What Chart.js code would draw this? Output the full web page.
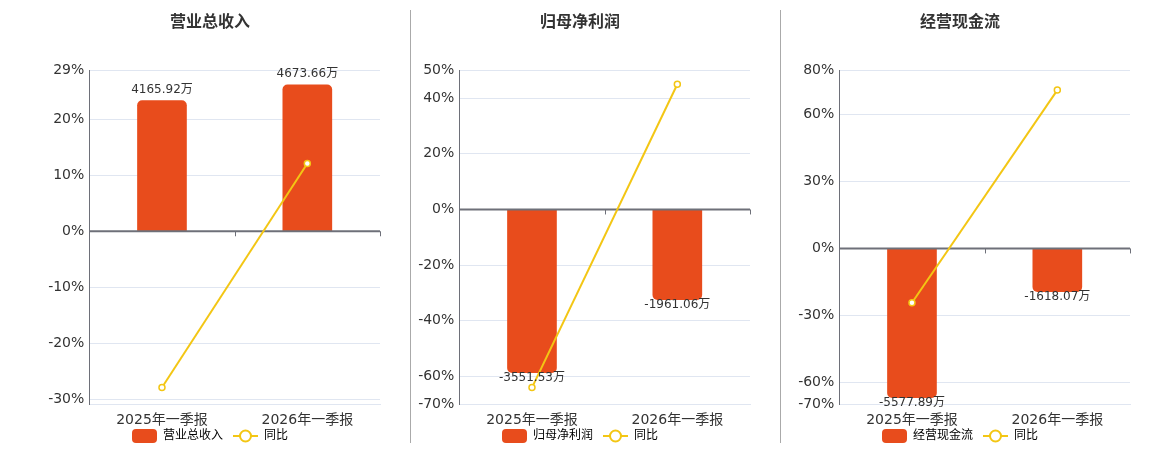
<!DOCTYPE html>
<html>
<head>
<meta charset="utf-8">
<script src="https://cdn.jsdelivr.net/npm/chart.js@4.4.1/dist/chart.umd.min.js"></script>
<style>
html, body { margin: 0; padding: 0; background: #fff; overflow: hidden; }
#wrap { position: relative; width: 1160px; height: 450px; }
.panel { position: absolute; top: 0; width: 380px; height: 452px; }
.sep { position: absolute; top: 10px; width: 1px; height: 433px; background: #aaa; }
</style>
</head>
<body>
<div id="wrap">
  <div class="panel" style="left:20px"><canvas id="c0" width="380" height="452"></canvas></div>
  <div class="panel" style="left:390px"><canvas id="c1" width="380" height="452"></canvas></div>
  <div class="panel" style="left:770px"><canvas id="c2" width="380" height="452"></canvas></div>
  <div class="sep" style="left:410px"></div>
  <div class="sep" style="left:780px"></div>
</div>
<script>
// categories and titles
const categories = ['2025年一季报', '2026年一季报'];
const titles = ['营业总收入', '归母净利润', '经营现金流'];

// bar values (万)
const revenue = [4165.92, 4673.66];
const netProfit = [-3551.53, -1961.06];
const cashFlow = [-5577.89, -1618.07];

// year-on-year (%)
const revenueYoY = [-27.9, 12.1];
const netProfitYoY = [-64.0, 45.0];
const cashFlowYoY = [-24.4, 71.1];

// percentage axis ticks and ranges
const revenueTicks = [28.75, 20, 10, 0, -10, -20, -30];
const netProfitTicks = [50, 40, 20, 0, -20, -40, -60, -70];
const cashFlowTicks = [80, 60, 30, 0, -30, -60, -70];
const revenueRange = [-30.9, 28.75];
const netProfitRange = [-70, 50];
const cashFlowRange = [-70, 80];

// hidden amount axis ranges (万), zero aligned with the % axis
const revenueBarRange = [-5519, 5135];
const netProfitBarRange = [-4240, 3028];
const cashFlowBarRange = [-5824, 6656];

const FONT = "'DejaVu Sans', 'Noto Sans CJK SC', sans-serif";
const BAR_COLOR = '#E84C1C';
const LINE_COLOR = '#F3C614';

// legend icons
function barIcon() {
    const c = document.createElement('canvas');
    c.width = 25; c.height = 14;
    const g = c.getContext('2d');
    g.fillStyle = BAR_COLOR;
    g.beginPath();
    g.roundRect(0, 0, 25, 14, 4);
    g.fill();
    return c;
}
function lineIcon() {
    const c = document.createElement('canvas');
    c.width = 25; c.height = 14;
    const g = c.getContext('2d');
    g.strokeStyle = LINE_COLOR;
    g.lineWidth = 2;
    g.beginPath();
    g.moveTo(0, 7); g.lineTo(25, 7);
    g.stroke();
    g.beginPath();
    g.arc(12.5, 7, 5.5, 0, Math.PI * 2);
    g.fillStyle = '#fff';
    g.fill();
    g.stroke();
    return c;
}
const icons = [barIcon(), lineIcon()];

// zero axis line with category boundary ticks, drawn over the bars
const zeroAxis = {
    id: 'zeroAxis',
    afterDatasetDraw(chart, args) {
        if (args.index !== 0) return;
        const ctx = chart.ctx;
        const area = chart.chartArea;
        const y = chart.scales.y.getPixelForValue(0);
        const x = chart.scales.x;
        ctx.save();
        ctx.strokeStyle = '#6E7079';
        ctx.lineWidth = 2;
        ctx.beginPath();
        ctx.moveTo(area.left, y);
        ctx.lineTo(area.right, y);
        ctx.stroke();
        ctx.lineWidth = 1;
        [0.5, 1.5].forEach(v => {
            const px = Math.round(x.getPixelForValue(v)) + 0.5;
            ctx.beginPath();
            ctx.moveTo(px, y);
            ctx.lineTo(px, y + 5);
            ctx.stroke();
        });
        ctx.restore();
    }
};

// value labels at the end of each bar, and category labels under the plot
// (the category labels overlap the legend box, so the scale can't clip them)
const barLabels = {
    id: 'barLabels',
    afterDatasetsDraw(chart) {
        const meta = chart.getDatasetMeta(0);
        const data = chart.data.datasets[0].data;
        const ctx = chart.ctx;
        ctx.save();
        ctx.font = '12px ' + FONT;
        ctx.fillStyle = '#333';
        ctx.textAlign = 'center';
        ctx.textBaseline = 'middle';
        meta.data.forEach((bar, i) => {
            const v = data[i];
            const y = v >= 0 ? bar.y - 11 : bar.y + 5;
            ctx.fillText(v.toFixed(2) + '万', bar.x, y);
        });
        const xs = chart.scales.x;
        ctx.font = '14px ' + FONT;
        chart.data.labels.forEach((lab, i) => {
            ctx.fillText(lab, xs.getPixelForTick(i), chart.chartArea.bottom + 16);
        });
        ctx.restore();
    }
};

function makeChart(id, title, amounts, yoy, ticks, range, barRange) {
    new Chart(document.getElementById(id), {
        data: {
            labels: categories,
            datasets: [
                {
                    type: 'bar',
                    label: title,
                    data: amounts,
                    yAxisID: 'y1',
                    order: 1,
                    backgroundColor: BAR_COLOR,
                    barThickness: 49,
                    borderRadius: 5,
                    borderSkipped: 'start'
                },
                {
                    type: 'line',
                    label: '同比',
                    data: yoy,
                    yAxisID: 'y',
                    order: 0,
                    borderColor: LINE_COLOR,
                    borderWidth: 2,
                    tension: 0,
                    pointRadius: 3,
                    pointBorderWidth: 1.5,
                    pointBackgroundColor: '#fff',
                    pointBorderColor: LINE_COLOR
                }
            ]
        },
        options: {
            responsive: false,
            animation: false,
            plugins: {
                title: {
                    display: true,
                    text: title,
                    color: '#333',
                    font: { size: 16, weight: 'bold', family: FONT },
                    padding: { top: 13.4, bottom: 37.7 }
                },
                legend: {
                    position: 'bottom',
                    labels: {
                        usePointStyle: true,
                        pointStyleWidth: 25,
                        padding: 10,
                        color: '#555',
                        font: { size: 12, family: FONT },
                        generateLabels: chart => chart.data.datasets.map((ds, i) => ({
                            text: ds.label,
                            pointStyle: icons[i],
                            fillStyle: 'transparent',
                            strokeStyle: 'transparent',
                            lineWidth: 0,
                            hidden: false,
                            datasetIndex: i
                        }))
                    }
                },
                tooltip: { enabled: false }
            },
            scales: {
                x: {
                    type: 'category',
                    offset: true,
                    grid: { display: false, drawTicks: false },
                    border: { display: true, color: '#E0E6F1', width: 1 },
                    ticks: { display: false },
                    afterFit: s => { s.height = 15.7; }
                },
                y: {
                    position: 'left',
                    min: range[0],
                    max: range[1],
                    afterBuildTicks: s => { s.ticks = ticks.map(v => ({ value: v })); },
                    afterFit: s => { s.width = 69.3; },
                    grid: { color: '#E0E6F1', drawTicks: false },
                    border: { color: '#6E7079', width: 1 },
                    ticks: {
                        autoSkip: false,
                        padding: 5,
                        color: '#333',
                        font: { size: 14, family: FONT },
                        callback: v => Math.round(v) + '%'
                    }
                },
                y1: {
                    position: 'right',
                    min: barRange[0],
                    max: barRange[1],
                    grid: { display: false, drawTicks: false },
                    border: { display: false },
                    ticks: { display: false },
                    afterFit: s => { s.width = 20; }
                }
            }
        },
        plugins: [zeroAxis, barLabels]
    });
}

makeChart('c0', titles[0], revenue, revenueYoY, revenueTicks, revenueRange, revenueBarRange);
makeChart('c1', titles[1], netProfit, netProfitYoY, netProfitTicks, netProfitRange, netProfitBarRange);
makeChart('c2', titles[2], cashFlow, cashFlowYoY, cashFlowTicks, cashFlowRange, cashFlowBarRange);
</script>
</body>
</html>
